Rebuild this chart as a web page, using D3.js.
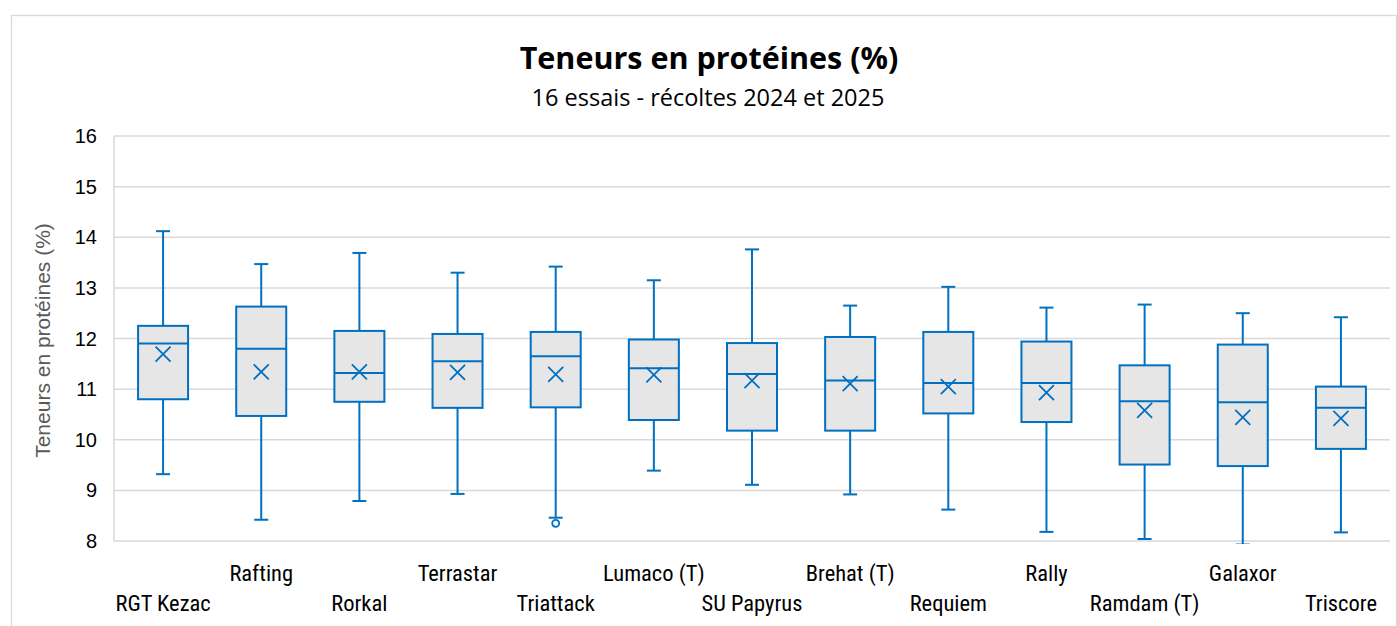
<!DOCTYPE html>
<html>
<head>
<meta charset="utf-8">
<script src="https://cdn.jsdelivr.net/npm/d3@7"></script>
<style>
  body { margin: 0; background: #fff; }
  svg { display: block; }
</style>
</head>
<body>
<div id="chart"></div>
<script>
(function() {
  var categories, whiskerHigh, boxHigh, medians, means, boxLow, whiskerLow, outliers, yTicks;
  var width, height, margin, x, y, svg, plot, g, boxW, capW, blue;

  categories = ['RGT Kezac', 'Rafting', 'Rorkal', 'Terrastar', 'Triattack', 'Lumaco (T)', 'SU Papyrus',
    'Brehat (T)', 'Requiem', 'Rally', 'Ramdam (T)', 'Galaxor', 'Triscore'];
  whiskerHigh = [14.12, 13.47, 13.69, 13.30, 13.42, 13.15, 13.76, 12.65, 13.02, 12.61, 12.67, 12.50, 12.42];
  boxHigh     = [12.25, 12.63, 12.15, 12.09, 12.13, 11.98, 11.91, 12.03, 12.13, 11.94, 11.47, 11.88, 11.05];
  medians     = [11.90, 11.80, 11.32, 11.55, 11.65, 11.41, 11.30, 11.17, 11.12, 11.12, 10.76, 10.74, 10.63];
  means       = [11.69, 11.34, 11.34, 11.33, 11.29, 11.28, 11.17, 11.11, 11.05, 10.93, 10.58, 10.44, 10.42];
  boxLow      = [10.80, 10.47, 10.75, 10.63, 10.64, 10.39, 10.18, 10.18, 10.52, 10.35, 9.51, 9.48, 9.82];
  whiskerLow  = [9.32, 8.42, 8.79, 8.93, 8.46, 9.39, 9.11, 8.92, 8.62, 8.18, 8.04, 7.93, 8.17];
  outliers    = [[], [], [], [], [8.35], [], [], [], [], [], [], [], []];
  yTicks = [8, 9, 10, 11, 12, 13, 14, 15, 16];

  width = 1397;
  height = 626;
  margin = { top: 136, right: 7, bottom: 85, left: 114 };
  blue = '#0070c0';
  boxW = 50;
  capW = 14;

  svg = d3.select('#chart').append('svg').attr('width', width).attr('height', height);

  // chart frame
  svg.append('rect')
    .attr('x', 11.5).attr('y', 15.5)
    .attr('width', 1385).attr('height', 640)
    .attr('fill', 'none').attr('stroke', '#d9d9d9').attr('stroke-width', 1.3);

  svg.append('text')
    .attr('x', 709).attr('y', 69)
    .attr('text-anchor', 'middle')
    .attr('font-family', 'Open Sans, sans-serif')
    .attr('font-weight', 'bold')
    .attr('font-size', '30.5px')
    .attr('fill', '#000')
    .text('Teneurs en protéines (%)');

  svg.append('text')
    .attr('x', 708).attr('y', 106)
    .attr('text-anchor', 'middle')
    .attr('font-family', 'Open Sans, sans-serif')
    .attr('font-size', '23.5px')
    .attr('fill', '#000')
    .text('16 essais - récoltes 2024 et 2025');

  x = d3.scaleBand().domain(categories).range([margin.left, width - margin.right]);
  y = d3.scaleLinear().domain([8, 16]).range([height - margin.bottom, margin.top]);

  // gridlines
  svg.append('g').selectAll('line').data(yTicks).enter().append('line')
    .attr('x1', margin.left).attr('x2', width - margin.right)
    .attr('y1', function(d) { return y(d); })
    .attr('y2', function(d) { return y(d); })
    .attr('stroke', '#d9d9d9').attr('stroke-width', 1.5);

  svg.append('line')
    .attr('x1', margin.left).attr('x2', margin.left)
    .attr('y1', y(16)).attr('y2', y(8))
    .attr('stroke', '#d9d9d9').attr('stroke-width', 1.5);

  // y tick labels
  svg.append('g').selectAll('text').data(yTicks).enter().append('text')
    .attr('x', 97)
    .attr('y', function(d) { return y(d); })
    .attr('dy', '0.35em')
    .attr('text-anchor', 'end')
    .attr('font-family', 'Liberation Sans, Arial, sans-serif')
    .attr('font-size', '20px')
    .attr('fill', '#000')
    .text(function(d) { return d; });

  svg.append('text')
    .attr('transform', 'translate(50,' + ((y(8) + y(16)) / 2 + 2) + ') rotate(-90)')
    .attr('text-anchor', 'middle')
    .attr('font-family', 'Liberation Sans, Arial, sans-serif')
    .attr('font-size', '21px')
    .attr('fill', '#595959')
    .text('Teneurs en protéines (%)');

  // category labels, staggered on two rows
  svg.append('g').selectAll('text').data(categories).enter().append('text')
    .attr('x', function(d) { return x(d) + x.bandwidth() / 2; })
    .attr('y', function(d, i) { return i % 2 === 0 ? 611 : 581; })
    .attr('text-anchor', 'middle')
    .attr('font-family', 'Liberation Sans Narrow, Roboto Condensed, sans-serif')
    .attr('font-size', '22.5px')
    .attr('fill', '#000')
    .text(function(d) { return d; });

  svg.append('clipPath').attr('id', 'plot-clip').append('rect')
    .attr('x', margin.left).attr('y', margin.top - 10)
    .attr('width', width - margin.left - margin.right)
    .attr('height', y(8) - margin.top + 13);

  plot = svg.append('g').attr('clip-path', 'url(#plot-clip)');

  g = plot.selectAll('g.box').data(categories).enter().append('g')
    .attr('class', 'box')
    .attr('transform', function(d) { return 'translate(' + (x(d) + x.bandwidth() / 2) + ',0)'; });

  // whiskers
  g.append('line')
    .attr('x1', 0).attr('x2', 0)
    .attr('y1', function(d, i) { return y(whiskerHigh[i]); })
    .attr('y2', function(d, i) { return y(whiskerLow[i]); })
    .attr('stroke', blue).attr('stroke-width', 2);

  g.append('line')
    .attr('x1', -capW / 2).attr('x2', capW / 2)
    .attr('y1', function(d, i) { return y(whiskerHigh[i]); })
    .attr('y2', function(d, i) { return y(whiskerHigh[i]); })
    .attr('stroke', blue).attr('stroke-width', 2);

  g.append('line')
    .attr('x1', -capW / 2).attr('x2', capW / 2)
    .attr('y1', function(d, i) { return y(whiskerLow[i]); })
    .attr('y2', function(d, i) { return y(whiskerLow[i]); })
    .attr('stroke', blue).attr('stroke-width', 2);

  // boxes
  g.append('rect')
    .attr('x', -boxW / 2)
    .attr('width', boxW)
    .attr('y', function(d, i) { return y(boxHigh[i]); })
    .attr('height', function(d, i) { return y(boxLow[i]) - y(boxHigh[i]); })
    .attr('fill', '#e7e6e6')
    .attr('stroke', blue).attr('stroke-width', 2);

  g.append('line')
    .attr('x1', -boxW / 2).attr('x2', boxW / 2)
    .attr('y1', function(d, i) { return y(medians[i]); })
    .attr('y2', function(d, i) { return y(medians[i]); })
    .attr('stroke', blue).attr('stroke-width', 2);

  // mean markers
  g.append('path')
    .attr('d', function(d, i) {
      var c = y(means[i]), s = 7.5;
      return 'M' + (-s) + ',' + (c - s) + 'L' + s + ',' + (c + s) +
        'M' + (-s) + ',' + (c + s) + 'L' + s + ',' + (c - s);
    })
    .attr('stroke', blue).attr('stroke-width', 1.8).attr('fill', 'none');

  // outliers
  g.selectAll('circle')
    .data(function(d, i) { return outliers[i]; })
    .enter().append('circle')
    .attr('cx', 0)
    .attr('cy', function(v) { return y(v); })
    .attr('r', 3.5)
    .attr('fill', '#fff')
    .attr('stroke', blue).attr('stroke-width', 1.8);

}).call(this);
</script>
</body>
</html>
